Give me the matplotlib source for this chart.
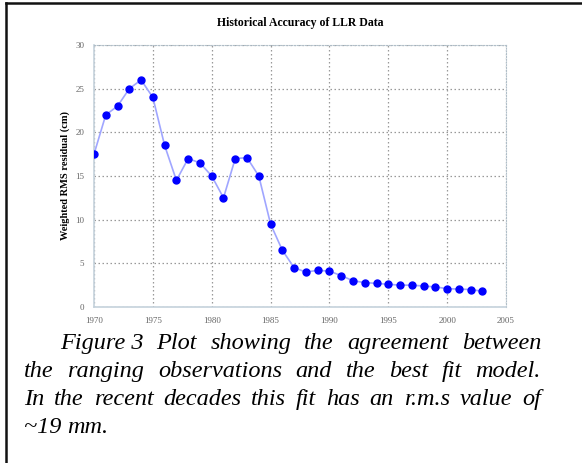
import matplotlib
matplotlib.use('Agg')
import matplotlib.pyplot as plt
import numpy as np

# Data
years = list(range(1970, 2004))
rms_cm = [17.5, 22.0, 23.0, 25.0, 26.0, 24.0, 18.5, 14.5, 17.0, 16.5,
          15.0, 12.5, 17.0, 17.1, 15.0, 9.5, 6.5, 4.5, 4.0, 4.2,
          4.1, 3.6, 3.0, 2.8, 2.7, 2.6, 2.5, 2.5, 2.4, 2.3,
          2.1, 2.05, 2.0, 1.8]
x_ticks = [1970, 1975, 1980, 1985, 1990, 1995, 2000, 2005]
y_ticks = [0, 5, 10, 15, 20, 25, 30]

title = 'Historical Accuracy of LLR Data'
ylabel = 'Weighted RMS residual (cm)'
caption_lines = [
    'Figure 3  Plot showing the agreement between',
    'the ranging observations and the best fit model.',
    'In the recent decades this fit has an r.m.s value of',
    '~19 mm.',
]

W, H = 582, 463
fig = plt.figure(figsize=(W / 100, H / 100), dpi=100)
serif = ['Liberation Serif', 'DejaVu Serif']

# Axes placed in pixel coordinates of the reference
left, right, top, bottom = 94, 506, 45, 307
ax = fig.add_axes([left / W, 1 - bottom / H, (right - left) / W, (bottom - top) / H])
ax.plot(years, rms_cm, '-', color='#a0a6ff', lw=1.2, zorder=3)
ax.plot(years, rms_cm, 'o', color='#0000ff', ms=5, zorder=4)
ax.set_xlim(1970, 2005)
ax.set_ylim(0, 30)
ax.set_xticks(x_ticks)
ax.set_yticks(y_ticks)
ax.grid(True, linestyle=(0, (1.2, 2.0)), color='#999999', lw=0.9)
ax.tick_params(length=0, labelsize=6.5, labelcolor='#666666', pad=7)
for lab in ax.get_xticklabels() + ax.get_yticklabels():
    lab.set_family(serif)
for side in ['left', 'bottom']:
    ax.spines[side].set_color('#c5d2dc')
    ax.spines[side].set_linewidth(1.2)
for side in ['right', 'top']:
    ax.spines[side].set_color('#b0bec8')
    ax.spines[side].set_linestyle((0, (1, 1.5)))
    ax.spines[side].set_linewidth(0.8)
ax.set_ylabel(ylabel, family=serif, fontweight='bold', fontsize=7.5, labelpad=4)
ax.set_title(title, family=serif, fontweight='bold', fontsize=8.5, pad=14)

# Frame (top and left lines only, as in the reference)
fig.add_artist(plt.Line2D([6 / W, 6 / W], [0, 1 - 3 / H], color='#111111', lw=1.8))
fig.add_artist(plt.Line2D([6 / W, 1], [1 - 3 / H, 1 - 3 / H], color='#111111', lw=1.8))

# Justified italic caption
renderer = fig.canvas.get_renderer()
baselines = [349, 377, 405, 433]
x_left, x_right = 24, 541
cap_size = 17.5

for i, line in enumerate(caption_lines):
    start = 60 if i == 0 else x_left
    words = line.split()
    if i == 0:
        words = ['Figure 3', 'Plot'] + line.split()[3:]
    texts = []
    for w in words:
        t = fig.text(0, 1 - baselines[i] / H, w, family=serif, style='italic',
                     fontsize=cap_size, va='baseline', ha='left')
        texts.append(t)
    widths = [t.get_window_extent(renderer).width for t in texts]
    if i < len(caption_lines) - 1:
        gap = (x_right - start - sum(widths)) / (len(words) - 1)
    else:
        gap = cap_size * 0.25 * 100 / 72
    x = start
    for t, wd in zip(texts, widths):
        t.set_x(x / W)
        x += wd + gap

fig.savefig('out.png', dpi=100)
